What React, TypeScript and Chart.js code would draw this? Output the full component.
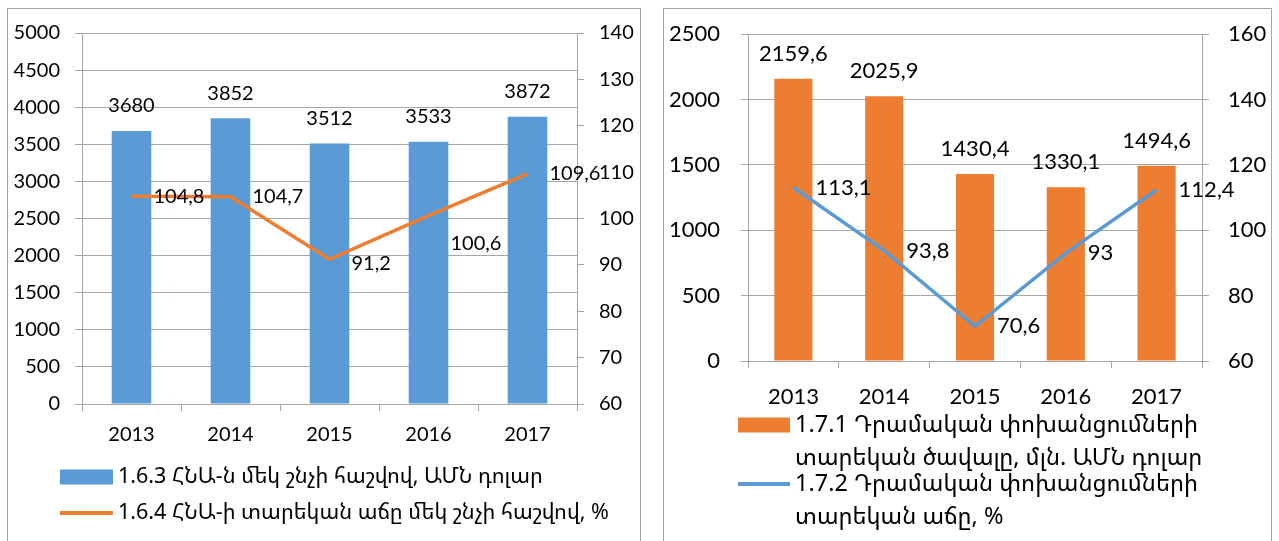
import React, { useEffect, useRef } from "react";
import { Chart, registerables } from "chart.js";

Chart.register(...registerables);

// ---------- DATA ----------
const years = ["2013", "2014", "2015", "2016", "2017"];
const gdpPerCapita = [3680, 3852, 3512, 3533, 3872];
const gdpGrowth = [104.8, 104.7, 91.2, 100.6, 109.6];
const remitVolume = [2159.6, 2025.9, 1430.4, 1330.1, 1494.6];
const remitGrowth = [113.1, 93.8, 70.6, 93, 112.4];
const leftSeriesLabels = [
  "1.6.3 ՀՆԱ-ն մեկ շնչի հաշվով, ԱՄՆ դոլար",
  "1.6.4 ՀՆԱ-ի տարեկան աճը մեկ շնչի հաշվով, %",
];
const rightSeriesLabels = [
  "1.7.1 Դրամական փոխանցումների տարեկան ծավալը, մլն. ԱՄՆ դոլար",
  "1.7.2 Դրամական փոխանցումների տարեկան աճը, %",
];
const leftAxisRange = { min: 0, max: 5000, step: 500 };
const leftAxis2Range = { min: 60, max: 140, step: 10 };
const rightAxisRange = { min: 0, max: 2500, step: 500 };
const rightAxis2Range = { min: 60, max: 160, step: 20 };

// ---------- STYLE ----------
const BLUE = "#5B9BD5";
const ORANGE = "#ED7D31";
const GREY = "#a6a6a6";
const NUM_FONT = 'Lato, "Noto Sans Armenian", "DejaVu Sans", sans-serif';
const TXT_FONT = '"Noto Sans Armenian", "DejaVu Sans", Lato, sans-serif';

const fmt = (v: number) => String(v).replace(".", ",");

const labelsPlugin = {
  id: "valueLabels",
  afterDatasetsDraw(chart: any) {
    const opts = chart.options.plugins.valueLabels || {};
    const ctx = chart.ctx;
    ctx.save();
    ctx.fillStyle = "#000";
    ctx.font = `${opts.size || 20}px ${NUM_FONT}`;
    chart.data.datasets.forEach((ds: any, di: number) => {
      const meta = chart.getDatasetMeta(di);
      meta.data.forEach((el: any, i: number) => {
        const txt = fmt(ds.data[i]);
        if (ds.type === "bar") {
          ctx.textAlign = "center";
          ctx.textBaseline = "middle";
          ctx.fillText(txt, el.x, el.y - (opts.barGap || 25));
        } else {
          const dy = (opts.lineDy && opts.lineDy[i]) || 0;
          ctx.textAlign = "left";
          ctx.textBaseline = "middle";
          ctx.fillText(txt, el.x + (opts.lineGap || 22), el.y + dy);
        }
      });
    });
    ctx.restore();
  },
};

const legendPlugin = {
  id: "sideLegend",
  afterDraw(chart: any) {
    const o = chart.options.plugins.sideLegend;
    if (!o) return;
    const ctx = chart.ctx;
    ctx.save();
    ctx.font = `${o.size}px ${TXT_FONT}`;
    ctx.textAlign = "left";
    ctx.textBaseline = "middle";
    chart.data.datasets.forEach((ds: any, i: number) => {
      const y0 = o.itemY[i];
      const words = String(ds.label).split(" ");
      const lines: string[] = [];
      let cur = "";
      words.forEach((w) => {
        const t = cur ? cur + " " + w : w;
        if (ctx.measureText(t).width > o.maxWidth && cur) {
          lines.push(cur);
          cur = w;
        } else cur = t;
      });
      if (cur) lines.push(cur);
      if (ds.type === "bar") {
        ctx.fillStyle = ds.backgroundColor;
        ctx.fillRect(o.symX, y0 - o.boxH / 2, o.symW, o.boxH);
      } else {
        ctx.strokeStyle = ds.borderColor;
        ctx.lineWidth = 4;
        ctx.beginPath();
        ctx.moveTo(o.symX, y0);
        ctx.lineTo(o.symX + o.symW, y0);
        ctx.stroke();
      }
      ctx.fillStyle = "#000";
      lines.forEach((ln, k) => ctx.fillText(ln, o.textX, y0 + k * o.lineH));
    });
    ctx.restore();
  },
};

const plain = (v: any) => String(v);

function makeConfig(p: any) {
  const tickFont = { family: NUM_FONT, size: p.fontSize };
  return {
    type: "bar",
    data: {
      labels: years,
      datasets: [
        {
          type: "bar",
          label: p.labels[0],
          data: p.bars,
          backgroundColor: p.barColor,
          yAxisID: "y",
          order: 2,
          barPercentage: p.barPct,
          categoryPercentage: 1,
        },
        {
          type: "line",
          label: p.labels[1],
          data: p.line,
          borderColor: p.lineColor,
          borderWidth: 3.5,
          pointRadius: 0,
          tension: 0,
          yAxisID: "y1",
          order: 1,
        },
      ],
    },
    options: {
      animation: false,
      responsive: false,
      maintainAspectRatio: false,
      layout: { padding: { top: p.top, bottom: p.bottom, left: 0, right: 0 } },
      plugins: {
        legend: { display: false },
        tooltip: { enabled: false },
        valueLabels: { size: p.fontSize, barGap: 25, lineGap: 22, lineDy: p.lineDy },
        sideLegend: p.legend,
      },
      scales: {
        x: {
          grid: { offset: true, drawOnChartArea: false, drawTicks: true, tickLength: 7, color: GREY },
          border: { color: GREY },
          ticks: { font: tickFont, color: "#000", padding: p.xPad, maxRotation: 0 },
          afterFit: (s: any) => { s.height = 60; },
        },
        y: {
          position: "left",
          min: p.yRange.min,
          max: p.yRange.max,
          ticks: { stepSize: p.yRange.step, font: tickFont, color: "#000", padding: p.yPad, callback: plain },
          grid: { color: GREY, tickLength: 7 },
          border: { color: GREY },
          afterFit: (s: any) => { s.width = p.yWidth; },
        },
        y1: {
          position: "right",
          min: p.y1Range.min,
          max: p.y1Range.max,
          ticks: { stepSize: p.y1Range.step, font: tickFont, color: "#000", padding: p.y1Pad, callback: plain },
          grid: { drawOnChartArea: false, color: GREY, tickLength: 7 },
          border: { color: GREY },
          afterFit: (s: any) => { s.width = p.y1Width; },
        },
      },
    },
    plugins: [labelsPlugin, legendPlugin],
  };
}

function ChartCanvas({ left, width, params }: any) {
  const ref = useRef<HTMLCanvasElement>(null);
  useEffect(() => {
    if (!ref.current) return;
    const chart = new Chart(ref.current, makeConfig(params) as any);
    return () => chart.destroy();
  }, []);
  return (
    <canvas
      ref={ref}
      width={width}
      height={541}
      style={{ position: "fixed", left, top: 0, width, height: 541, display: "block" }}
    />
  );
}

export default function App() {
  const leftParams = {
    labels: leftSeriesLabels,
    bars: gdpPerCapita,
    line: gdpGrowth,
    barColor: BLUE,
    lineColor: ORANGE,
    barPct: 0.4,
    fontSize: 20,
    top: 33,
    bottom: 541 - 404 - 60,
    xPad: 12,
    yPad: 15,
    y1Pad: 15,
    yWidth: 82,
    y1Width: 650 - 577,
    yRange: leftAxisRange,
    y1Range: leftAxis2Range,
    lineDy: [0, 0, 4, 28, 0],
    legend: { size: 21.5, symX: 60, symW: 53, boxH: 15, textX: 118, itemY: [477, 513], lineH: 34, maxWidth: 600 },
  };
  const rightParams = {
    labels: rightSeriesLabels,
    bars: remitVolume,
    line: remitGrowth,
    barColor: ORANGE,
    lineColor: BLUE,
    barPct: 0.42,
    fontSize: 22,
    top: 34,
    bottom: 541 - 361 - 60,
    xPad: 16,
    yPad: 21,
    y1Pad: 19,
    yWidth: 748 - 650,
    y1Width: 1279 - 1202,
    yRange: rightAxisRange,
    y1Range: rightAxis2Range,
    lineDy: [0, 0, 0, 0, 0],
    legend: { size: 23.5, symX: 738 - 650, symW: 52, boxH: 15, textX: 795 - 650, itemY: [425, 484], lineH: 33, maxWidth: 425 },
  };
  return (
    <div style={{ position: "fixed", left: 0, top: 0, width: 1279, height: 541, background: "#fff" }}>
      <ChartCanvas left={0} width={650} params={leftParams} />
      <ChartCanvas left={650} width={629} params={rightParams} />
      <div style={{ position: "fixed", left: 7, top: 8, width: 634, height: 600, boxSizing: "border-box", border: `1px solid ${GREY}`, pointerEvents: "none" }} />
      <div style={{ position: "fixed", left: 663, top: 8, width: 609, height: 600, boxSizing: "border-box", border: `1px solid ${GREY}`, pointerEvents: "none" }} />
    </div>
  );
}
